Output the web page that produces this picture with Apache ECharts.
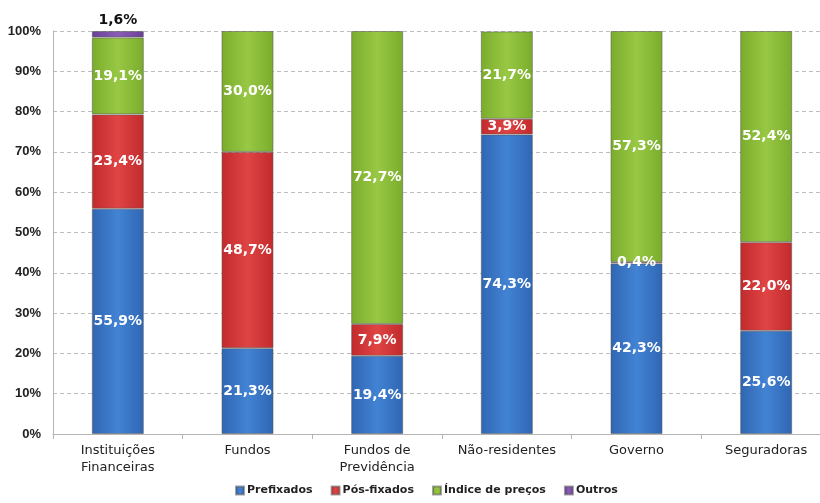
<!DOCTYPE html>
<html>
<head>
<meta charset="utf-8">
<script src="https://cdn.jsdelivr.net/npm/echarts@6/dist/echarts.min.js"></script>
<style>
  html, body { margin: 0; padding: 0; background: #fff; }
  #chart { width: 820px; height: 503px; }
</style>
</head>
<body>
<div id="chart"></div>
<script>
// categories and shares (%)
const categories = ["Instituições\nFinanceiras", "Fundos", "Fundos de\nPrevidência", "Não-residentes", "Governo", "Seguradoras"];
const prefixados = [55.9, 21.3, 19.4, 74.3, 42.3, 25.6];
const posFixados = [23.4, 48.7, 7.9, 3.9, 0.4, 22.0];
const indicePrecos = [19.1, 30.0, 72.7, 21.7, 57.3, 52.4];
const outros = [1.6, 0, 0, 0, 0, 0];
const yTicks = [0, 10, 20, 30, 40, 50, 60, 70, 80, 90, 100];

const fmt = (v) => v.toFixed(1).replace(".", ",") + "%";

// bar fill with a soft horizontal shading
function shade(dark, light) {
  return new echarts.graphic.LinearGradient(0, 0, 1, 0, [
    { offset: 0, color: dark },
    { offset: 0.5, color: light },
    { offset: 1, color: dark },
  ]);
}

function makeSeries(name, data, fill, labelOpts) {
  return {
    name: name,
    type: "bar",
    stack: "total",
    barWidth: 52,
    data: data.map((v) => (v > 0 ? v : null)),
    itemStyle: {
      color: fill,
      borderColor: "rgba(90,90,90,0.55)",
      borderWidth: 1,
    },
    label: Object.assign(
      {
        show: true,
        position: "inside",
        color: "#fff",
        fontFamily: "DejaVu Sans",
        fontWeight: "bold",
        fontSize: 14,
        formatter: (p) => fmt(p.value),
      },
      labelOpts || {}
    ),
  };
}

const chart = echarts.init(document.getElementById("chart"));
chart.setOption({
  animation: false,
  color: ["#3b78c6", "#d63a3a", "#8dbd3a", "#7b4fa6"],
  grid: { left: 53, top: 31, width: 778, height: 403, outerBoundsMode: "none" },
  legend: {
    bottom: 2,
    left: 230,
    itemWidth: 8,
    itemHeight: 8,
    itemGap: 18,
    icon: "rect",
    textStyle: { color: "#222", fontFamily: "DejaVu Sans", fontWeight: "bold", fontSize: 11, padding: [0, 0, 0, -2] },
    data: ["Prefixados", "Pós-fixados", "Índice de preços", "Outros"],
  },
  xAxis: {
    type: "category",
    data: categories,
    axisLine: { lineStyle: { color: "#b5b5b5" } },
    axisTick: { show: true, interval: 0, alignWithLabel: false, lineStyle: { color: "#b5b5b5" } },
    axisLabel: { interval: 0, color: "#222", fontFamily: "DejaVu Sans", fontSize: 13, lineHeight: 17, margin: 8 },
  },
  yAxis: {
    type: "value",
    min: yTicks[0],
    max: yTicks[yTicks.length - 1],
    interval: 10,
    axisLine: { show: true, lineStyle: { color: "#b5b5b5" } },
    axisTick: { show: false },
    axisLabel: { color: "#222", fontFamily: "Liberation Sans", fontWeight: "bold", fontSize: 13, margin: 12, formatter: "{value}%" },
    splitLine: { lineStyle: { color: "#bdbdbd", type: [4, 3] } },
  },
  series: [
    makeSeries("Prefixados", prefixados, shade("#2f66b3", "#4283d3")),
    makeSeries("Pós-fixados", posFixados, shade("#c12a2c", "#e04444")),
    makeSeries("Índice de preços", indicePrecos, shade("#7aac2c", "#98c844")),
    makeSeries("Outros", outros, shade("#6a3f96", "#8a5db6"), {
      position: "top",
      color: "#111",
      distance: 4,
    }),
  ],
});
</script>
</body>
</html>
